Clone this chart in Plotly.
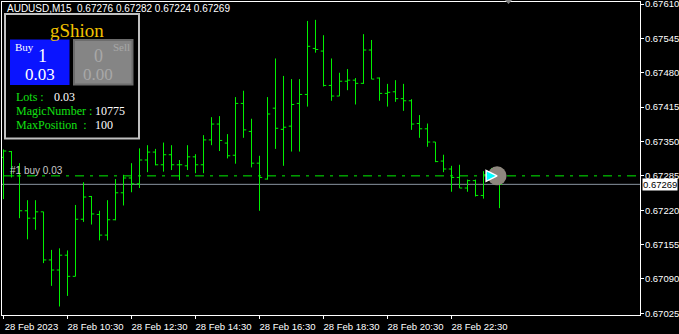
import plotly.graph_objects as go
import pandas as pd

# ---------------- data ----------------
symbol = "AUDUSD,M15"
opens = [0.67320, 0.67331, 0.67285, 0.67219, 0.67205, 0.67217, 0.67126, 0.67107, 0.67135, 0.67095,
         0.67203, 0.67246, 0.67212, 0.67173, 0.67202, 0.67253, 0.67281, 0.67270, 0.67315, 0.67330,
         0.67306, 0.67325, 0.67306, 0.67304, 0.67321, 0.67306, 0.67353, 0.67383, 0.67347, 0.67324,
         0.67422, 0.67369, 0.67309, 0.67279, 0.67413, 0.67373, 0.67379, 0.67422, 0.67439, 0.67526,
         0.67521, 0.67456, 0.67436, 0.67464, 0.67466, 0.67460, 0.67523, 0.67470, 0.67441, 0.67444,
         0.67431, 0.67427, 0.67384, 0.67374, 0.67349, 0.67313, 0.67298, 0.67282, 0.67262, 0.67276,
         0.67248, 0.67287, 0.67276]
highs = [0.67335, 0.67332, 0.67309, 0.67239, 0.67239, 0.67217, 0.67145, 0.67148, 0.67144, 0.67230,
         0.67273, 0.67247, 0.67219, 0.67239, 0.67279, 0.67287, 0.67309, 0.67337, 0.67343, 0.67336,
         0.67348, 0.67343, 0.67315, 0.67343, 0.67326, 0.67362, 0.67396, 0.67398, 0.67364, 0.67434,
         0.67446, 0.67393, 0.67323, 0.67434, 0.67507, 0.67474, 0.67468, 0.67468, 0.67578, 0.67580,
         0.67551, 0.67507, 0.67480, 0.67487, 0.67470, 0.67553, 0.67542, 0.67471, 0.67459, 0.67466,
         0.67459, 0.67430, 0.67400, 0.67384, 0.67349, 0.67325, 0.67304, 0.67306, 0.67278, 0.67278,
         0.67294, 0.67300, 0.67282]
lows = [0.67241, 0.67282, 0.67205, 0.67165, 0.67183, 0.67120, 0.67077, 0.67038, 0.67058, 0.67095,
        0.67198, 0.67193, 0.67163, 0.67163, 0.67201, 0.67229, 0.67254, 0.67262, 0.67292, 0.67305,
        0.67293, 0.67296, 0.67277, 0.67296, 0.67290, 0.67290, 0.67343, 0.67332, 0.67318, 0.67308,
        0.67357, 0.67301, 0.67219, 0.67278, 0.67336, 0.67304, 0.67331, 0.67331, 0.67416, 0.67518,
        0.67454, 0.67427, 0.67436, 0.67447, 0.67420, 0.67459, 0.67468, 0.67427, 0.67416, 0.67425,
        0.67408, 0.67372, 0.67357, 0.67340, 0.67311, 0.67292, 0.67255, 0.67262, 0.67255, 0.67246,
        0.67242, 0.67274, 0.67224]
closes = [0.67332, 0.67285, 0.67219, 0.67205, 0.67217, 0.67126, 0.67107, 0.67135, 0.67095, 0.67203,
          0.67245, 0.67213, 0.67173, 0.67202, 0.67253, 0.67281, 0.67270, 0.67315, 0.67330, 0.67306,
          0.67325, 0.67306, 0.67306, 0.67321, 0.67306, 0.67353, 0.67383, 0.67352, 0.67323, 0.67422,
          0.67372, 0.67309, 0.67282, 0.67402, 0.67375, 0.67377, 0.67420, 0.67439, 0.67530, 0.67524,
          0.67456, 0.67436, 0.67464, 0.67466, 0.67460, 0.67523, 0.67468, 0.67441, 0.67443, 0.67431,
          0.67427, 0.67383, 0.67374, 0.67349, 0.67312, 0.67298, 0.67282, 0.67262, 0.67276, 0.67248,
          0.67287, 0.67276, 0.67269]
times = pd.date_range("2023-02-28 08:30", periods=len(opens), freq="15min")

price_ticks = [0.67610, 0.67545, 0.67480, 0.67415, 0.67350, 0.67285, 0.67220, 0.67155, 0.67090, 0.67025]
time_ticks = ["2023-02-28 08:30", "2023-02-28 10:30", "2023-02-28 12:30", "2023-02-28 14:30",
              "2023-02-28 16:30", "2023-02-28 18:30", "2023-02-28 20:30", "2023-02-28 22:30"]
time_labels = ["28 Feb 2023", "28 Feb 10:30", "28 Feb 12:30", "28 Feb 14:30",
               "28 Feb 16:30", "28 Feb 18:30", "28 Feb 20:30", "28 Feb 22:30"]

order_label = "#1 buy 0.03"
order_price = 0.67285
bid_price = closes[-1]

panel_title = "gShion"
buy_count, buy_lots = "1", "0.03"
sell_count, sell_lots = "0", "0.00"
info_names = ["Lots :", "MagicNumber :", "MaxPosition  :"]
info_values = ["0.03", "10775", "100"]

# ---------------- layout helpers ----------------
W, H = 679, 334
ML, MR, MT, MB = 2, 39, 2, 19
PW, PH = W - ML - MR, H - MT - MB

def px(x):
    return (x - ML) / PW

def py(y):
    return 1 - (y - MT) / PH

GREEN = "#00f000"
step = pd.Timedelta(minutes=15)
x_range = [times[0] - 0.1875 * step, times[0] + 79.5625 * step]
y_range = [0.670219, 0.676138]

fig = go.Figure()
fig.add_trace(go.Ohlc(
    x=times, open=opens, high=highs, low=lows, close=closes,
    increasing=dict(line=dict(color=GREEN, width=1)),
    decreasing=dict(line=dict(color=GREEN, width=1)),
    tickwidth=0.34, hoverinfo="skip", showlegend=False,
))

# trade arrow marker
fig.add_trace(go.Scatter(
    x=[times[-1] - 0.3 * step], y=[order_price], mode="markers",
    marker=dict(size=19, color="#8e877e", line=dict(width=0)),
    hoverinfo="skip", showlegend=False, cliponaxis=False,
))
fig.add_trace(go.Scatter(
    x=[times[-1] - 0.3 * step], y=[order_price], mode="markers",
    marker=dict(size=11, symbol="arrow-right", color="#00ffff", line=dict(width=1.5, color="white")),
    hoverinfo="skip", showlegend=False, cliponaxis=False,
))

shapes = [
    dict(type="line", xref="paper", yref="y", x0=0, x1=1, y0=bid_price, y1=bid_price,
         line=dict(color="#8a95a0", width=1), layer="below"),
    dict(type="line", xref="paper", yref="y", x0=px(3), x1=1, y0=order_price, y1=order_price,
         line=dict(color=GREEN, width=1, dash="9px,6px,3px,6px"), layer="below"),
    # info panel
    dict(type="rect", xref="paper", yref="paper", x0=px(5), x1=px(139), y0=py(14), y1=py(138.5),
         fillcolor="black", line=dict(color="#c0c0c0", width=2)),
    dict(type="rect", xref="paper", yref="paper", x0=px(10), x1=px(69.5), y0=py(39.5), y1=py(85),
         fillcolor="#0a14ff", line=dict(width=0)),
    dict(type="rect", xref="paper", yref="paper", x0=px(74), x1=px(132.5), y0=py(40), y1=py(84.5),
         fillcolor="#858585", line=dict(color="#6c6c6c", width=2)),
    # chart shift marker
    dict(type="path", xref="paper", yref="paper",
         path=f"M {px(504)} {py(-1)} L {px(513)} {py(-1)} L {px(508.5)} {py(4)} Z",
         fillcolor="#808080", line=dict(width=0)),
]

SERIF = "Liberation Serif"
SANS = "Liberation Sans"
ann = []

def text(x, y, s, size, color, family=SERIF, xanchor="left", yanchor="middle", **kw):
    ann.append(dict(x=px(x), y=py(y), xref="paper", yref="paper", text=s, showarrow=False,
                    xanchor=xanchor, yanchor=yanchor, borderpad=0,
                    font=dict(size=size, color=color, family=family), **kw))

text(6, 8.5, f"{symbol}&nbsp;&nbsp;{opens[-1]:.5f} {highs[-1]:.5f} {lows[-1]:.5f} {closes[-1]:.5f}",
     10, "white", SANS)
text(77, 30, panel_title, 19, "#f2c200", xanchor="center")
text(14, 46.5, "Buy", 11, "white")
text(42.5, 56.5, buy_count, 18, "white", xanchor="center")
text(39.5, 74.5, buy_lots, 17, "white", xanchor="center")
text(131, 46.5, "Sell", 11, "#a8a8a8", xanchor="right")
text(98, 56.5, sell_count, 18, "#a8a8a8", xanchor="center")
text(98, 74.5, sell_lots, 17, "#a8a8a8", xanchor="center")
text(15, 97, info_names[0], 12, "#12e012")
text(52.5, 97, info_values[0], 12, "white")
text(15, 111, info_names[1], 12, "#12e012")
text(93.5, 111, info_values[1], 12, "white")
text(15, 125, info_names[2], 12, "#12e012")
text(93.5, 125, info_values[2], 12, "white")
text(8.5, 170.5, order_label, 10, "#c8c8c8", SANS)

ann.append(dict(x=1, y=bid_price, xref="paper", yref="y", text=f"{bid_price:.5f}", showarrow=False,
                xanchor="left", yanchor="middle", xshift=2, bgcolor="white", borderpad=0,
                font=dict(size=9.5, color="black", family=SANS)))

fig.update_layout(
    width=W, height=H, margin=dict(l=ML, r=MR, t=MT, b=MB, autoexpand=False),
    paper_bgcolor="black", plot_bgcolor="black",
    shapes=shapes, annotations=ann, showlegend=False,
    xaxis=dict(type="date", range=x_range, rangeslider=dict(visible=False), automargin=False,
               showgrid=False, zeroline=False, showline=True, mirror=True, linecolor="white", linewidth=1,
               ticks="outside", ticklen=3, tickcolor="white",
               tickvals=time_ticks, ticktext=time_labels, ticklabelshift=28,
               tickfont=dict(size=9.5, color="white", family=SANS)),
    yaxis=dict(range=y_range, side="right", showgrid=False, zeroline=False, automargin=False,
               showline=True, mirror=True, linecolor="white", linewidth=1,
               ticks="outside", ticklen=3, tickcolor="white", ticklabeloverflow="allow",
               ticklabelstandoff=-1,
               tickvals=price_ticks, ticktext=[f"{v:.5f}" for v in price_ticks],
               tickfont=dict(size=9.5, color="white", family=SANS)),
)

fig.write_html("out.html")
